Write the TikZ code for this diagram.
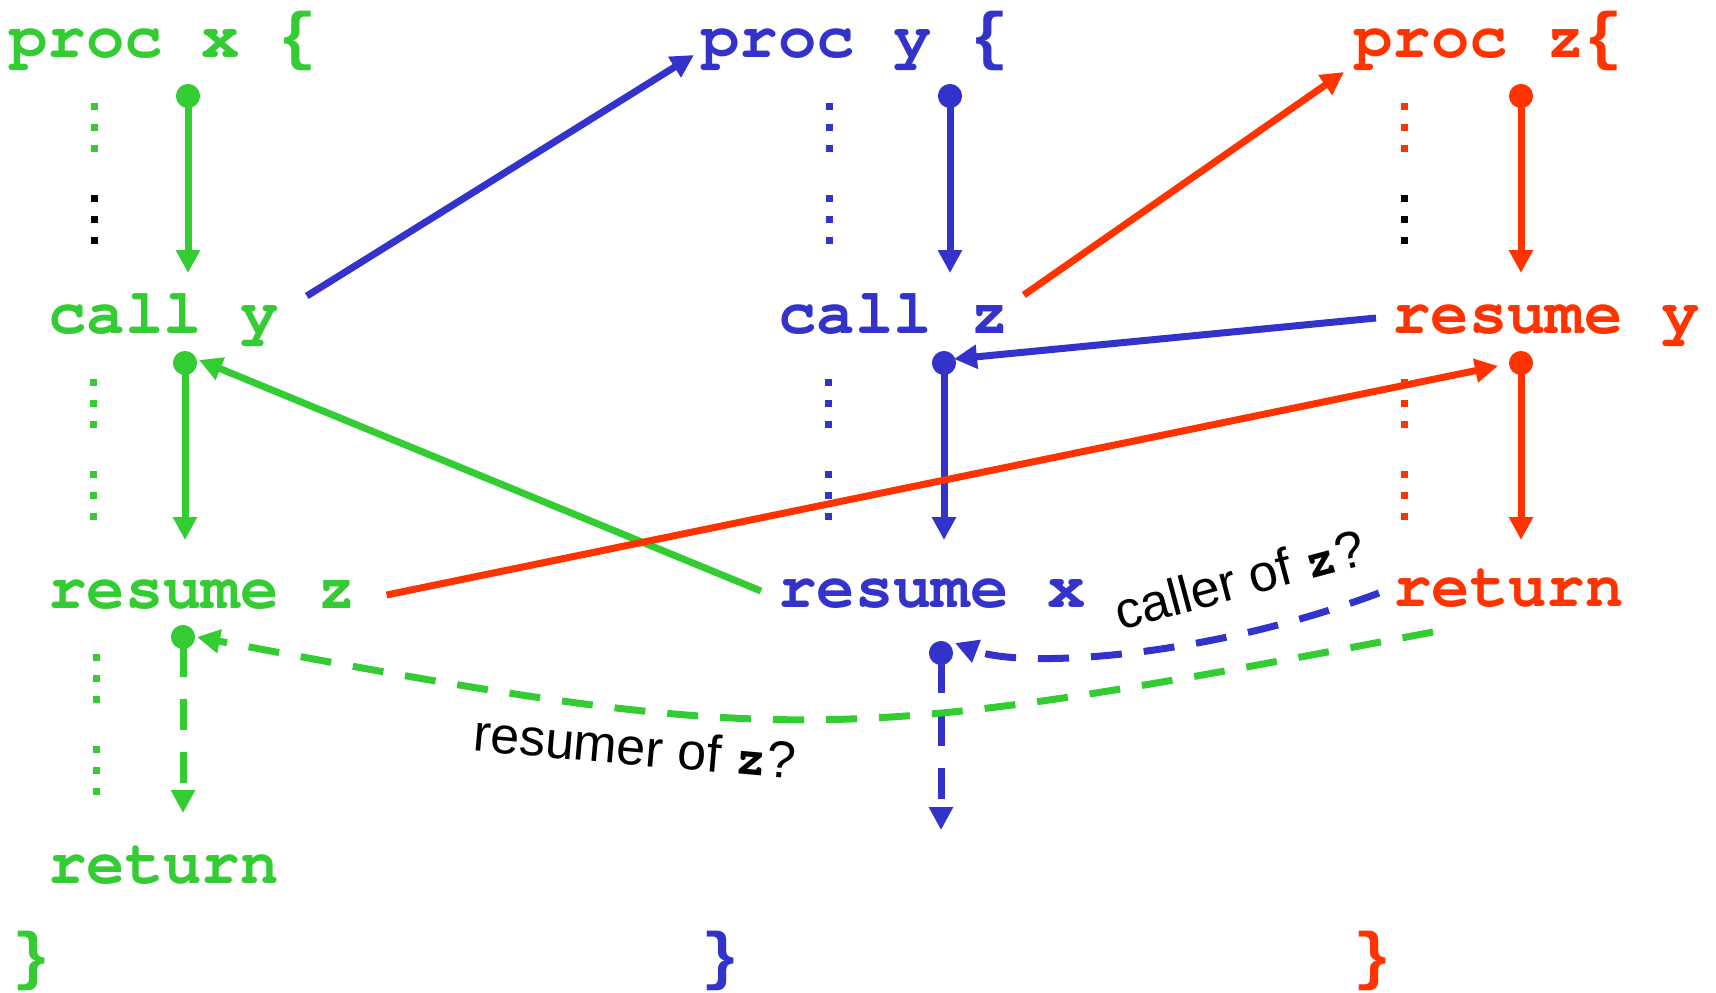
\documentclass[tikz,border=0pt]{standalone}
\usepackage[T1]{fontenc}
\usepackage{fontspec}
\setmainfont{Liberation Sans}
\setsansfont{Liberation Sans}
\setmonofont{Liberation Mono}
\usepackage{tikz}
\usetikzlibrary{arrows.meta}
\definecolor{xgreen}{RGB}{51,204,51}
\definecolor{yblue}{RGB}{51,51,204}
\definecolor{zred}{RGB}{255,51,0}
\newcommand{\courierbf}{\fontencoding{T1}\fontfamily{pcr}\fontseries{b}\selectfont}
\newcommand{\bracebf}{\fontencoding{TU}\fontfamily{\ttdefault}\fontseries{b}\selectfont}

\begin{document}
\begin{tikzpicture}[
  x=1pt, y=-1pt,
  code/.style={anchor=base west, inner sep=0pt, font=\fontsize{64}{64}\courierbf},
  note/.style={anchor=base, inner sep=0pt, font=\fontsize{52}{52}\selectfont\sffamily},
  jump/.style={-{Triangle[length=23pt, width=23pt]}, line width=7pt},
  thread/.style={{Circle[length=24pt]}-{Triangle[length=23pt, width=23pt]}, line width=7pt},
  later/.style={dash pattern=on 31pt off 22pt},
]
  \useasboundingbox (0,0) rectangle (1716,993);

  % procedure x
  \node[code, xgreen] (procx) at (9,57) {proc x {\bracebf\{}};
  \node[code, xgreen] (cally) at (48,333) {call y};
  \node[code, xgreen] (resumez) at (48,608) {resume z};
  \node[code, xgreen] (returnx) at (48,883) {return};
  \node[code, xgreen] (endx) at (12,977) {\bracebf\}};

  % procedure y
  \node[code, yblue] (procy) at (701,57) {proc y {\bracebf\{}};
  \node[code, yblue] (callz) at (778,333) {call z};
  \node[code, yblue] (resumex) at (778,607) {resume x};
  \node[code, yblue] (endy) at (701,977) {\bracebf\}};

  % procedure z
  \node[code, zred] (procz) at (1354,57) {proc z{\bracebf\{}};
  \node[code, zred] (resumey) at (1392,333) {resume y};
  \node[code, zred] (returnz) at (1393,606) {return};
  \node[code, zred] (endz) at (1353,977) {\bracebf\}};

  % elided code
  \foreach \x/\b/\ca/\cb in {94/57/xgreen/black, 829/57/yblue/yblue, 1404/57/zred/black,
                             93/333/xgreen/xgreen, 828/333/yblue/yblue, 1404/333/zred/zred,
                             96/608/xgreen/xgreen} {
    \foreach \d in {49,70,91}
      \fill[\ca] (\x-3.5,\b+\d-3.5) rectangle ++(7,7);
    \foreach \d in {141,162,183}
      \fill[\cb] (\x-3.5,\b+\d-3.5) rectangle ++(7,7);
  }

  \coordinate (x1s) at (188,84);  \coordinate (x1e) at (188,273);
  \coordinate (x2s) at (185,351); \coordinate (x2e) at (185,540);
  \coordinate (x3s) at (183,625); \coordinate (x3e) at (183,813);
  \coordinate (y1s) at (950,84);  \coordinate (y1e) at (950,273);
  \coordinate (y2s) at (944,351); \coordinate (y2e) at (944,540);
  \coordinate (y3s) at (941,641); \coordinate (y3e) at (941,830);
  \coordinate (z1s) at (1521,84); \coordinate (z1e) at (1521,273);
  \coordinate (z2s) at (1521,351); \coordinate (z2e) at (1521,540);

  \coordinate (xback) at (199,360);
  \coordinate (yback) at (954,359);
  \coordinate (zback) at (1498,366);
  \coordinate (xret) at (197,637);
  \coordinate (yret) at (955,643);

  % threads of control
  \draw[thread, xgreen] (x1s) -- (x1e);
  \draw[thread, xgreen] (x2s) -- (x2e);
  \draw[thread, xgreen, later] (x3s) -- (x3e);
  \draw[thread, yblue] (y1s) -- (y1e);
  \draw[thread, yblue] (y2s) -- (y2e);
  \draw[thread, yblue, later] (y3s) -- (y3e);
  \draw[thread, zred] (z1s) -- (z1e);
  \draw[thread, zred] (z2s) -- (z2e);

  % transfers
  \draw[jump, yblue] ([shift={(28,-37)}]cally.base east) -- ([shift={(-7,-2)}]procy.base west);
  \draw[jump, zred] ([shift={(15,-38)}]callz.base east) -- ([shift={(-10,15)}]procz.base west);
  \draw[jump, yblue] ([shift={(-16,-15)}]resumey.base west) -- (yback);
  \draw[jump, xgreen] ([shift={(-17,-16)}]resumex.base west) -- (xback);
  \draw[jump, zred] ([shift={(31,-13)}]resumez.base east) -- (zback);
  \draw[jump, yblue, later] ([shift={(-14,-13)}]returnz.base west)
    .. controls (1200,660) and (1020,668) .. (yret);
  \draw[jump, xgreen, later] ([shift={(40,26)}]returnz.base west)
    .. controls (840,745) and (790,750) .. (xret);

  \node[note, rotate=15] (caller) at (1244,597) {caller of {\courierbf z}?};
  \node[note, rotate=-5] (resumer) at (633,765) {resumer of {\courierbf z}?};
\end{tikzpicture}
\end{document}
